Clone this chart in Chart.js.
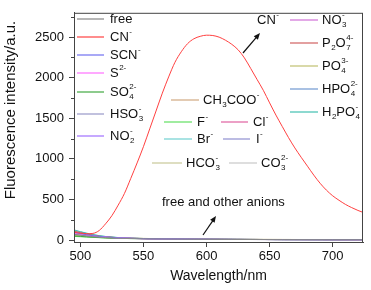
<!DOCTYPE html>
<html lang="en">
<head>
    <meta charset="UTF-8" />
    <title>Fluorescence vs anions</title>
    <script src="https://cdn.jsdelivr.net/npm/chart.js"></script>
    <style>
        html, body { margin: 0; padding: 0; background: #fff; }
        canvas { display: block; }
    </style>
</head>
<body>
    <canvas id="fluoChart" width="371" height="290"></canvas>

    <script>
        // CN- response, full grid
        const wavelengths = [495, 500, 505, 510, 515, 520, 525, 530, 535, 540, 545, 550, 555, 560, 565, 570,
            575, 580, 585, 590, 595, 600, 605, 610, 615, 620, 625, 630, 635, 640, 645, 650, 655, 660, 665,
            670, 675, 680, 685, 690, 695, 700, 705, 710, 715, 720, 725];
        const cnIntensity = [95, 85, 78, 82, 118, 200, 300, 430, 575, 760, 950, 1150, 1370, 1590, 1810, 2010,
            2190, 2320, 2420, 2480, 2510, 2524, 2520, 2500, 2462, 2412, 2345, 2245, 2115, 1980, 1845, 1690,
            1540, 1400, 1262, 1135, 1020, 910, 800, 700, 615, 545, 490, 440, 400, 365, 335];

        // free probe and the other anions, coarser grid
        const baseWavelengths = [495, 500, 505, 510, 515, 520, 530, 540, 550, 560, 570, 590, 620, 660, 700, 725];
        const freeIntensity   = [70, 60, 50, 42, 35, 30, 22, 18, 16, 15, 12, 9, 7, 6, 5, 5];
        const scnIntensity    = [95, 80, 66, 54, 44, 37, 27, 21, 18, 16, 13, 10, 8, 6, 5, 5];
        const s2Intensity     = [85, 72, 60, 50, 41, 35, 26, 20, 17, 15, 12, 9, 7, 6, 5, 4];
        const so4Intensity    = [50, 45, 40, 35, 31, 27, 22, 19, 18, 16, 13, 10, 8, 6, 5, 5];
        const hso3Intensity   = [75, 64, 54, 46, 39, 33, 25, 20, 17, 15, 12, 9, 7, 6, 5, 5];
        const no2Intensity    = [88, 75, 62, 52, 43, 36, 27, 21, 18, 16, 13, 10, 8, 6, 5, 5];
        const no3Intensity    = [80, 68, 57, 48, 40, 34, 26, 20, 17, 15, 12, 9, 7, 6, 5, 5];
        const p2o7Intensity   = [110, 92, 75, 60, 48, 40, 29, 22, 19, 17, 14, 10, 8, 6, 5, 5];
        const po4Intensity    = [65, 58, 50, 43, 37, 32, 25, 21, 20, 18, 14, 11, 8, 7, 6, 5];
        const hpo4Intensity   = [100, 84, 70, 57, 46, 38, 28, 22, 18, 16, 13, 10, 8, 6, 5, 5];
        const h2po4Intensity  = [125, 104, 85, 68, 54, 44, 31, 23, 19, 16, 13, 10, 8, 6, 5, 5];
        const acetIntensity   = [60, 53, 46, 40, 35, 30, 24, 20, 19, 17, 14, 11, 8, 7, 6, 5];
        const fIntensity      = [45, 41, 37, 33, 29, 26, 21, 18, 17, 15, 12, 9, 7, 6, 5, 4];
        const clIntensity     = [90, 76, 63, 52, 43, 36, 27, 21, 18, 16, 13, 10, 8, 6, 5, 5];
        const brIntensity     = [120, 100, 82, 66, 53, 43, 30, 23, 19, 16, 13, 10, 8, 6, 5, 5];
        const iIntensity      = [78, 66, 56, 47, 39, 33, 25, 20, 17, 15, 12, 9, 7, 6, 5, 5];
        const hco3Intensity   = [55, 50, 44, 39, 34, 30, 24, 21, 20, 18, 14, 11, 8, 7, 6, 5];
        const co3Intensity    = [68, 59, 51, 44, 38, 32, 25, 20, 18, 16, 13, 10, 8, 6, 5, 5];

        const xTicks = [500, 550, 600, 650, 700];
        const yTicks = [0, 500, 1000, 1500, 2000, 2500];
        const yMinorTicks = [250, 750, 1250, 1750, 2250, 2750];

        // label markup: _{sub} ^{sup}
        const anions = ['free', 'CN^{-}', 'SCN^{-}', 'S^{2-}', 'SO_{4}^{2-}', 'HSO_{3}^{-}', 'NO_{2}^{-}',
            'NO_{3}^{-}', 'P_{2}O_{7}^{4-}', 'PO_{4}^{3-}', 'HPO_{4}^{2-}', 'H_{2}PO_{4}^{-}',
            'CH_{3}COO^{-}', 'F^{-}', 'Cl^{-}', 'Br^{-}', 'I^{-}', 'HCO_{3}^{-}', 'CO_{3}^{2-}'];
        const seriesValues = [freeIntensity, cnIntensity, scnIntensity, s2Intensity, so4Intensity, hso3Intensity,
            no2Intensity, no3Intensity, p2o7Intensity, po4Intensity, hpo4Intensity, h2po4Intensity,
            acetIntensity, fIntensity, clIntensity, brIntensity, iIntensity, hco3Intensity, co3Intensity];
        const lineColors = ['#888888', '#ff4040', '#7070f0', '#ff70ff', '#40a840', '#9898c8', '#a070ff',
            '#d070d8', '#d06060', '#c0c070', '#7098d0', '#40c0b0',
            '#d0a880', '#60e060', '#e060a0', '#70d0d0', '#9090d0', '#c8c898', '#c8c8c8'];

        // where each legend entry sits: [lineStart, lineEnd, textX, y]
        const legendSpots = [
            [77, 104, 110, 19], [77, 104, 110, 37], [77, 104, 110, 55], [77, 104, 110, 73],
            [77, 104, 110, 92], [77, 104, 110, 114], [77, 104, 110, 136],
            [290, 318, 322, 20], [290, 318, 322, 43], [290, 318, 322, 66], [290, 318, 322, 89], [290, 318, 322, 112],
            [171, 199, 203, 100], [164, 192, 197, 122], [221, 248, 253, 122], [164, 192, 197, 139],
            [223, 250, 256, 139], [152, 182, 186, 163], [229, 257, 261, 163]
        ];

        const FONT = '"Liberation Sans", Arial, sans-serif';

        function drawRich(ctx, text, x, y) {
            const parts = [];
            let i = 0;
            while (i < text.length) {
                if ((text[i] === '_' || text[i] === '^') && text[i + 1] === '{') {
                    const end = text.indexOf('}', i);
                    parts.push({ t: text.slice(i + 2, end), k: text[i] });
                    i = end + 1;
                } else {
                    let j = i;
                    while (j < text.length && !((text[j] === '_' || text[j] === '^') && text[j + 1] === '{')) j++;
                    parts.push({ t: text.slice(i, j), k: '' });
                    i = j;
                }
            }
            ctx.textBaseline = 'middle';
            ctx.textAlign = 'left';
            let cx = x, scriptX = 0, scriptW = 0;
            parts.forEach((p, n) => {
                if (!p.k) {
                    ctx.font = '13px ' + FONT;
                    ctx.fillText(p.t, cx, y);
                    cx += ctx.measureText(p.t).width;
                    return;
                }
                ctx.font = '8px ' + FONT;
                const w = ctx.measureText(p.t).width;
                const prev = parts[n - 1];
                const stacked = prev && prev.k && prev.k !== p.k;
                const px = stacked ? scriptX : cx + 0.5;
                ctx.fillText(p.t, px, y + (p.k === '_' ? 5 : -5));
                if (stacked) {
                    cx = scriptX + Math.max(scriptW, w);
                } else {
                    scriptX = px;
                    scriptW = w;
                    cx = px + w;
                }
            });
        }

        function arrow(ctx, x1, y1, x2, y2) {
            const a = Math.atan2(y2 - y1, x2 - x1);
            ctx.beginPath();
            ctx.moveTo(x1, y1);
            ctx.lineTo(x2 - 4 * Math.cos(a), y2 - 4 * Math.sin(a));
            ctx.stroke();
            ctx.beginPath();
            ctx.moveTo(x2, y2);
            ctx.lineTo(x2 - 7 * Math.cos(a - 0.4), y2 - 7 * Math.sin(a - 0.4));
            ctx.lineTo(x2 - 7 * Math.cos(a + 0.4), y2 - 7 * Math.sin(a + 0.4));
            ctx.closePath();
            ctx.fill();
        }

        const overlay = {
            id: 'overlay',
            beforeDraw(chart) {
                const c = chart.ctx;
                c.save();
                c.fillStyle = '#fff';
                c.fillRect(0, 0, chart.width, chart.height);
                c.restore();
            },
            afterDraw(chart) {
                const c = chart.ctx;
                const area = chart.chartArea;
                const yScale = chart.scales.y;
                c.save();
                c.strokeStyle = '#444';
                c.lineWidth = 1;
                c.strokeRect(area.left + 0.5, area.top + 0.5, area.right - area.left - 1, area.bottom - area.top);
                yMinorTicks.forEach(v => {
                    const py = Math.round(yScale.getPixelForValue(v)) + 0.5;
                    c.beginPath();
                    c.moveTo(area.left - 3, py);
                    c.lineTo(area.left, py);
                    c.stroke();
                });

                // legend entries
                legendSpots.forEach((s, idx) => {
                    c.strokeStyle = lineColors[idx];
                    c.lineWidth = 1.2;
                    c.beginPath();
                    c.moveTo(s[0], s[3]);
                    c.lineTo(s[1], s[3]);
                    c.stroke();
                    c.fillStyle = '#111';
                    drawRich(c, anions[idx], s[2], s[3]);
                });

                // annotations
                c.fillStyle = '#111';
                c.strokeStyle = '#111';
                c.lineWidth = 1.2;
                drawRich(c, 'CN^{-}', 257, 20);
                arrow(c, 243, 53, 260, 33);
                drawRich(c, 'free and other anions', 162, 202);
                arrow(c, 203, 235, 216, 216);

                // y axis title
                c.translate(11, 110);
                c.rotate(-Math.PI / 2);
                c.font = '15px ' + FONT;
                c.textAlign = 'center';
                c.textBaseline = 'middle';
                c.fillText('Fluorescence intensity/a.u.', 0, 0);
                c.restore();
            }
        };

        const datasets = seriesValues.map((vals, idx) => {
            const xs = vals === cnIntensity ? wavelengths : baseWavelengths;
            return {
                label: anions[idx],
                data: xs.map((x, k) => ({ x: x, y: vals[k] })),
                borderColor: lineColors[idx],
                borderWidth: 1,
                pointRadius: 0,
                cubicInterpolationMode: 'monotone',
                fill: false
            };
        });
        // red CN- curve on top
        datasets.sort((a, b) => (a.label === 'CN^{-}' ? -1 : 0) - (b.label === 'CN^{-}' ? -1 : 0));

        new Chart(document.getElementById('fluoChart').getContext('2d'), {
            type: 'line',
            data: { datasets: datasets },
            options: {
                responsive: false,
                animation: false,
                layout: { padding: { top: 7, right: 8, left: 0, bottom: 0 } },
                plugins: { legend: { display: false }, tooltip: { enabled: false } },
                scales: {
                    x: {
                        type: 'linear',
                        min: 495,
                        max: 724,
                        afterBuildTicks: s => { s.ticks = xTicks.map(v => ({ value: v })); },
                        afterFit: s => { s.height = 48; },
                        grid: { display: true, drawOnChartArea: false, drawTicks: true, tickLength: 5, tickColor: '#444' },
                        border: { display: true, color: '#444' },
                        ticks: { color: '#111', font: { size: 13, family: FONT }, padding: 2, maxRotation: 0, callback: v => String(v) },
                        title: { display: true, text: 'Wavelength/nm', color: '#111', font: { size: 14, family: FONT }, padding: { top: 0, bottom: 5 } }
                    },
                    y: {
                        min: -24,
                        max: 2800,
                        afterBuildTicks: s => { s.ticks = yTicks.map(v => ({ value: v })); },
                        afterFit: s => { s.width = 74; },
                        grid: { display: true, drawOnChartArea: false, drawTicks: true, tickLength: 5, tickColor: '#444' },
                        border: { display: true, color: '#444' },
                        ticks: { color: '#111', font: { size: 13, family: FONT }, padding: 5, callback: v => String(v) }
                    }
                }
            },
            plugins: [overlay]
        });
    </script>
</body>
</html>
